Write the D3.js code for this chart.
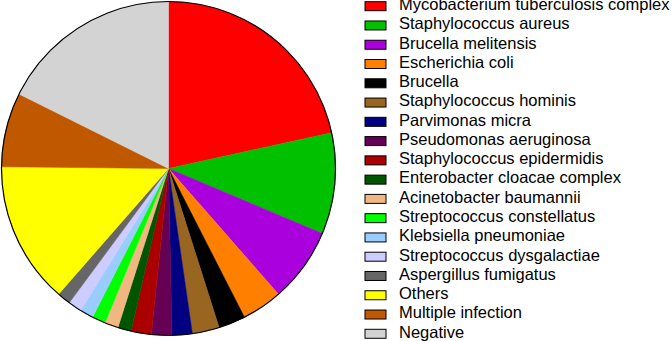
<!DOCTYPE html>
<html>
<head>
<meta charset="utf-8">
<title>Pathogen pie</title>
<style>
    body, html {
        margin: 0;
        padding: 0;
        background: #fff;
    }
    .legend text {
        font-family: "Liberation Sans", Arial, sans-serif;
        font-size: 16.5px;
        fill: #000;
    }
</style>
</head>
<body>
<div id="chart"></div>
<script src="https://d3js.org/d3.v7.min.js"></script>
<script>

    var labels = ['Mycobacterium tuberculosis complex', 'Staphylococcus aureus', 'Brucella melitensis',
        'Escherichia coli', 'Brucella', 'Staphylococcus hominis', 'Parvimonas micra',
        'Pseudomonas aeruginosa', 'Staphylococcus epidermidis', 'Enterobacter cloacae complex',
        'Acinetobacter baumannii', 'Streptococcus constellatus', 'Klebsiella pneumoniae',
        'Streptococcus dysgalactiae', 'Aspergillus fumigatus', 'Others', 'Multiple infection', 'Negative'];
    var counts = [33, 15, 11, 6, 4, 4, 3, 3, 3, 2, 2, 2, 2, 2, 2, 21, 11, 27];
    var colors = ['#ff0000', '#00c000', '#aa00dd', '#ff8000', '#000000', '#996622', '#000080',
        '#660055', '#aa0000', '#005500', '#f0b880', '#00ff00', '#99ccff', '#ccccff', '#666666',
        '#ffff00', '#c05800', '#d3d3d3'];

    var width = 672;
    var height = 341;
    var cx = 168.5, cy = 168.5, radius = 167;
    var legendX = 365, legendY = 1.7, legendStep = 19.27;
    var rectW = 21, rectH = 9;

    var dataset = labels.map(function(d, i) {
        return {label: d, count: counts[i]};
    });

    var color = d3.scaleOrdinal().domain(labels).range(colors);

    var svg = d3.select('#chart')
        .append('svg')
        .attr('width', width)
        .attr('height', height);

    var arc = d3.arc()
        .innerRadius(0)
        .outerRadius(radius);

    var pie = d3.pie()
        .value(function(d) { return d.count; })
        .sort(null);

    var g = svg.append('g')
        .attr('transform', 'translate(' + cx + ',' + cy + ')');

    g.selectAll('path')
        .data(pie(dataset))
        .enter()
        .append('path')
        .attr('d', arc)
        .attr('fill', function(d) { return color(d.data.label); })
        .attr('stroke', function(d) { return color(d.data.label); })
        .attr('stroke-width', 0.5);

    // outer rim
    g.append('circle')
        .attr('r', radius)
        .attr('fill', 'none')
        .attr('stroke', '#000')
        .attr('stroke-width', 1.2);

    var legend = svg.selectAll('.legend')
        .data(color.domain())
        .enter()
        .append('g')
        .attr('class', 'legend')
        .attr('transform', function(d, i) {
            return 'translate(' + legendX + ',' + (legendY + i * legendStep) + ')';
        });

    legend.append('rect')
        .attr('width', rectW)
        .attr('height', rectH)
        .style('fill', color)
        .style('stroke', '#000')
        .style('stroke-width', 1);

    legend.append('text')
        .attr('x', 34)
        .attr('y', rectH / 2 + 3.8)
        .text(function(d) { return d; });

</script>
</body>
</html>
